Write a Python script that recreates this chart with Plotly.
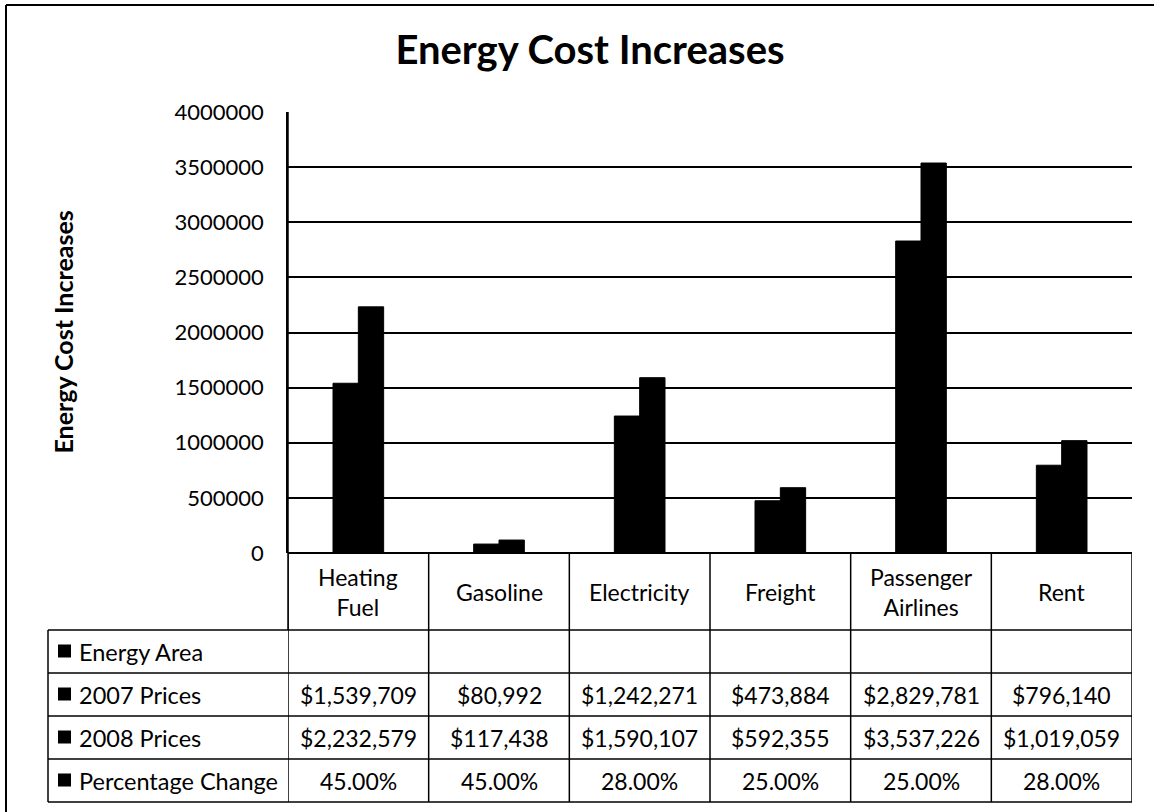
import plotly.graph_objects as go

categories = ["Heating Fuel", "Gasoline", "Electricity", "Freight", "Passenger Airlines", "Rent"]
category_labels = ["Heating<br>Fuel", "Gasoline", "Electricity", "Freight", "Passenger<br>Airlines", "Rent"]
prices_2007 = [1539709, 80992, 1242271, 473884, 2829781, 796140]
prices_2008 = [2232579, 117438, 1590107, 592355, 3537226, 1019059]
pct_change = [45.00, 45.00, 28.00, 25.00, 25.00, 28.00]
row_labels = ["Energy Area", "2007 Prices", "2008 Prices", "Percentage Change"]
y_ticks = [0, 500000, 1000000, 1500000, 2000000, 2500000, 3000000, 3500000, 4000000]

FONT = "Lato"
W, H = 1154, 812
L, R, T, B = 288, 22, 112, 259
PW = W - L - R
PH = H - T - B


def px_x(px):
    return (px - L) / PW


def px_y(py):
    return (H - B - py) / PH


fig = go.Figure()
fig.add_trace(go.Bar(x=categories, y=prices_2007, name="2007 Prices",
                     marker=dict(color="black", line=dict(color="black", width=1))))
fig.add_trace(go.Bar(x=categories, y=prices_2008, name="2008 Prices",
                     marker=dict(color="black", line=dict(color="black", width=1))))

shapes = []
annotations = []

# table geometry (pixels)
row_lines = [553, 630, 673, 716, 759, 802]
left_px = 48

# horizontal lines of data rows
for yy in row_lines[1:]:
    shapes.append(dict(type="line", xref="paper", yref="paper",
                       x0=px_x(left_px), x1=1, y0=px_y(yy), y1=px_y(yy),
                       line=dict(color="black", width=1.5)))
# vertical lines at category boundaries
for i in range(len(categories) + 1):
    shapes.append(dict(type="line", xref="x", yref="paper",
                       x0=i - 0.5, x1=i - 0.5, y0=px_y(row_lines[0]), y1=px_y(row_lines[-1]),
                       line=dict(color="black", width=1.5)))
# left border of the legend column
shapes.append(dict(type="line", xref="paper", yref="paper",
                   x0=px_x(left_px), x1=px_x(left_px), y0=px_y(row_lines[1]), y1=px_y(row_lines[-1]),
                   line=dict(color="black", width=1.5)))
# outer chart border (left and top)
shapes.append(dict(type="line", xref="paper", yref="paper",
                   x0=px_x(6), x1=px_x(6), y0=px_y(5), y1=px_y(815),
                   line=dict(color="black", width=2)))
shapes.append(dict(type="line", xref="paper", yref="paper",
                   x0=px_x(6), x1=px_x(1160), y0=px_y(5), y1=px_y(5),
                   line=dict(color="black", width=2)))

# header category labels
for i, lab in enumerate(category_labels):
    annotations.append(dict(x=i, xref="x", y=px_y((row_lines[0] + row_lines[1]) / 2), yref="paper",
                            text=lab, showarrow=False, xanchor="center", yanchor="middle",
                            font=dict(family=FONT, size=23, color="black")))

# row labels (legend key square + text)
for r, lab in enumerate(row_labels):
    yc = (row_lines[r + 1] + row_lines[r + 2]) / 2
    shapes.append(dict(type="rect", xref="paper", yref="paper",
                       x0=px_x(58), x1=px_x(71), y0=px_y(yc + 6), y1=px_y(yc - 7),
                       fillcolor="black", line=dict(width=0)))
    annotations.append(dict(x=px_x(77), xref="paper", y=px_y(yc), yref="paper",
                            text=lab, showarrow=False, xanchor="left", yanchor="middle",
                            font=dict(family=FONT, size=23.5, color="black")))

# row values
rows_vals = [
    [""] * len(categories),
    ["${:,}".format(v) for v in prices_2007],
    ["${:,}".format(v) for v in prices_2008],
    ["{:.2f}%".format(v) for v in pct_change],
]
for r, vals in enumerate(rows_vals):
    yc = (row_lines[r + 1] + row_lines[r + 2]) / 2
    for i, t in enumerate(vals):
        if t:
            annotations.append(dict(x=i, xref="x", y=px_y(yc), yref="paper",
                                    text=t, showarrow=False, xanchor="center", yanchor="middle",
                                    font=dict(family=FONT, size=23, color="black")))

# y-axis title
annotations.append(dict(x=px_x(62), xref="paper", y=0.5, yref="paper",
                        text="<b>Energy Cost Increases</b>", textangle=-90, showarrow=False,
                        xanchor="center", yanchor="middle",
                        font=dict(family=FONT, size=25, color="black")))

fig.update_layout(
    width=W, height=H,
    margin=dict(l=L, r=R, t=T, b=B),
    paper_bgcolor="white", plot_bgcolor="white",
    barmode="group", bargap=0.64, bargroupgap=0,
    showlegend=False,
    title=dict(text="<b>Energy Cost Increases</b>", x=590 / W, xref="container", xanchor="center",
               y=1 - 50 / H, yref="container", yanchor="middle",
               font=dict(family=FONT, size=40, color="black")),
    font=dict(family=FONT, color="black"),
    xaxis=dict(range=[-0.5, len(categories) - 0.5], showticklabels=False, showgrid=False,
               zeroline=False, showline=False, ticks=""),
    yaxis=dict(range=[0, 4000000], tickvals=y_ticks, ticktext=[str(v) for v in y_ticks],
               showgrid=True, gridcolor="black", gridwidth=1.5,
               showline=True, linecolor="black", linewidth=1.5,
               zeroline=True, zerolinecolor="black", zerolinewidth=1.5,
               ticks="", ticklabelstandoff=18,
               tickfont=dict(family=FONT, size=22, color="black")),
    shapes=shapes,
    annotations=annotations,
)
# extend the y axis line down through the header row
fig.add_shape(type="line", xref="paper", yref="paper", x0=0, x1=0,
              y0=1, y1=px_y(row_lines[1]), line=dict(color="black", width=1.5))

fig.write_html("out.html", config={"displayModeBar": False},
               post_script="document.body.style.margin='0px';")
